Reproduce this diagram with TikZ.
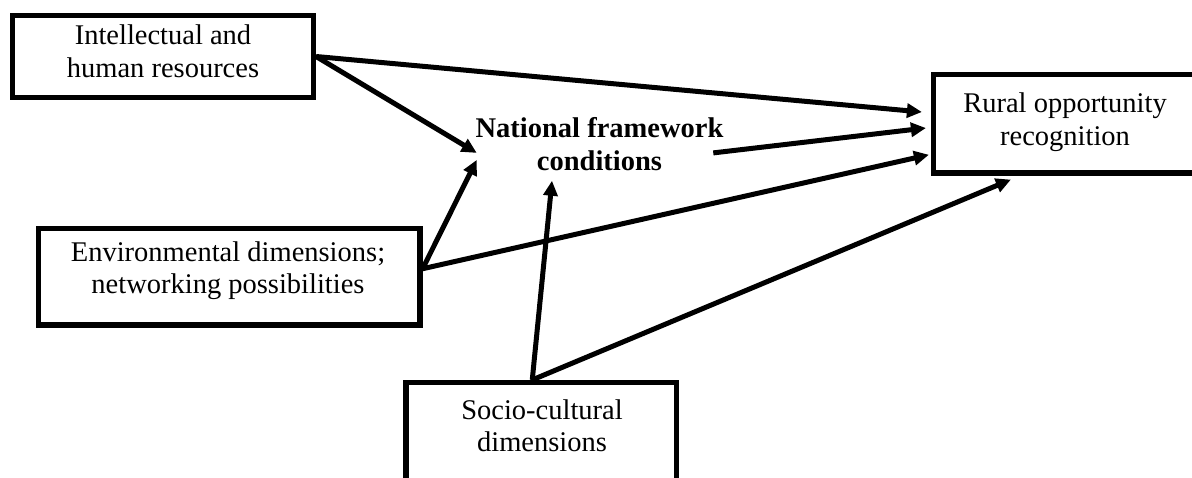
\documentclass[tikz,border=0pt]{standalone}
\usepackage{fontspec}
\setmainfont{Liberation Serif}
\usetikzlibrary{arrows.meta,calc}
\begin{document}
\begin{tikzpicture}[x=0.5pt,y=-0.5pt,
  box/.style={draw=black,line width=2.6pt,rectangle,inner sep=0pt,fill=none},
  txt/.style={inner sep=0pt,align=center,font=\fontsize{14.25pt}{16.25pt}\selectfont},
  btxt/.style={txt,font=\fontsize{14.25pt}{16.25pt}\selectfont\bfseries},
  arr/.style={line width=2.5pt,-{Triangle[length=7.5pt,width=7pt]}}]
\useasboundingbox (0,0) rectangle (1192,477);
\clip (0,0) rectangle (1192,477);
% boxes
\node[box,minimum width=150.5pt,minimum height=41pt] (intel) at (163,56.5) {};
\node[box,minimum width=131.75pt,minimum height=49.25pt] (rural) at (1065.25,123.75) {};
\node[box,minimum width=190.75pt,minimum height=48.25pt] (env) at (229.25,276.75) {};
\node[box,minimum width=135.25pt,minimum height=50pt] (socio) at (541.25,432.5) {};
% texts
\node[txt] (intelT) at (163,51.25) {Intellectual and\\human resources};
\node[txt] (ruralT) at (1065,122.3) {Rural opportunity\\recognition};
\node[txt] (envT) at (228,270.9) {Environmental dimensions;\\networking possibilities};
\node[txt] (socioT) at (542,425.8) {Socio-cultural\\dimensions};
\node[btxt] (nat) at (599.5,143.9) {National framework\\conditions};
% connectors
\draw[arr] (intel.east) -- ($(rural.west)+(-9,-11.75)$);
\draw[arr] (intel.east) -- ($(nat.west)+(1.5,9)$);
\draw[arr] ($(nat.east)+(-10.5,9)$) -- ($(rural.west)+(-5,4.25)$);
\draw[arr] ($(env.east)+(0,-8)$) -- ($(nat.west)+(1.5,16)$);
\draw[arr] ($(env.east)+(0,-8)$) -- ($(rural.west)+(-2,31)$);
\draw[arr] ($(socio.north)+(-9,0)$) -- ($(nat.south)+(-47.5,10)$);
\draw[arr] ($(socio.north)+(-9,0)$) -- ($(rural.south west)+(80,4)$);
\end{tikzpicture}
\end{document}
